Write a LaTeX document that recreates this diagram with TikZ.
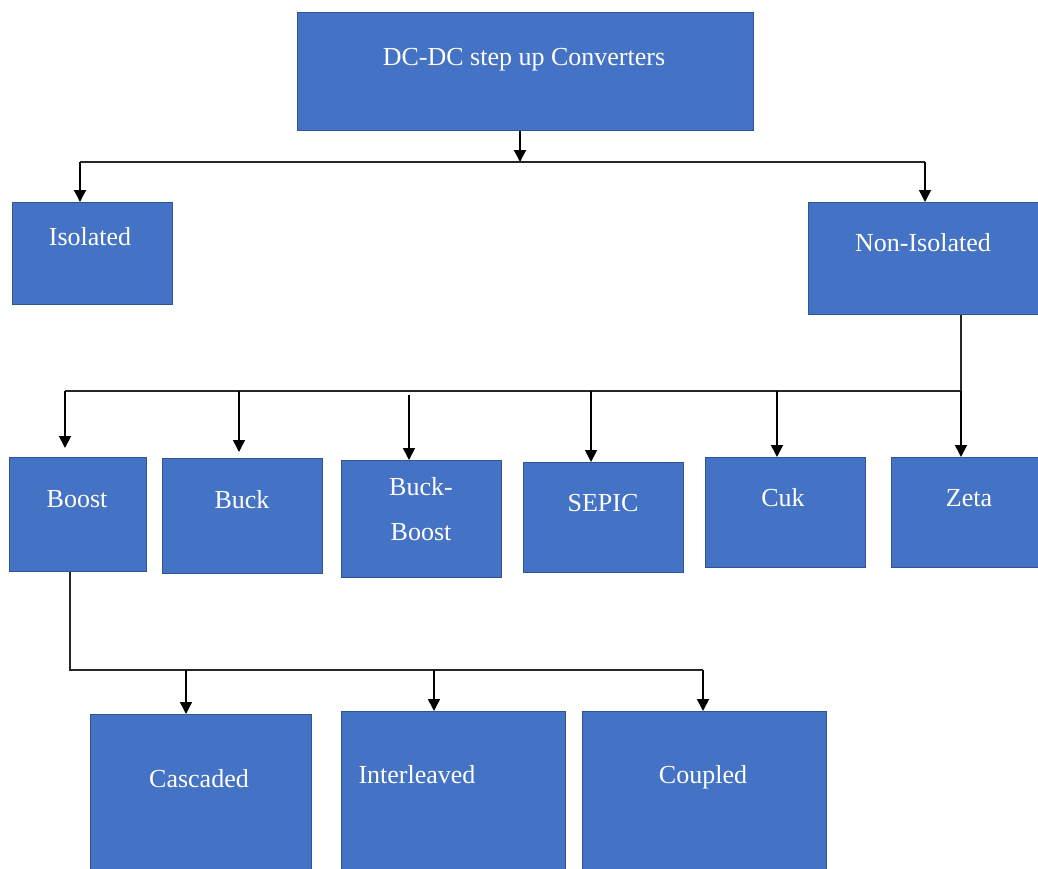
\documentclass[tikz,border=0pt]{standalone}
\usepackage{fontspec}
\setmainfont{Liberation Serif}
\usetikzlibrary{arrows.meta}
\definecolor{boxfill}{HTML}{4472C4}
\definecolor{boxline}{HTML}{2F5597}
\begin{document}
\begin{tikzpicture}[x=1pt,y=-1pt,
  box/.style={draw=boxline, line width=1pt, fill=boxfill, rectangle, anchor=north west, inner sep=0pt},
  lbl/.style={text=white, anchor=base, inner sep=0pt, font=\fontsize{26}{30}\selectfont},
  conn/.style={draw=black!85, line width=1.6pt},
  arr/.style={draw=black, line width=1.6pt, -{Triangle[length=12pt,width=12pt]}}]
\useasboundingbox (0,0) rectangle (1038,868);
\clip (0,0) rectangle (1038,868);
% boxes
\node[box, minimum width=456pt, minimum height=118pt] (top) at (297,12) {};
\node[box, minimum width=160pt, minimum height=102pt] (iso) at (12,202) {};
\node[box, minimum width=240pt, minimum height=112pt] (noniso) at (808,202) {};
\node[box, minimum width=137pt, minimum height=114pt] (boost) at (9,457) {};
\node[box, minimum width=160pt, minimum height=115pt] (buck) at (162,458) {};
\node[box, minimum width=160pt, minimum height=117pt] (bb) at (341,460) {};
\node[box, minimum width=160pt, minimum height=110pt] (sepic) at (523,462) {};
\node[box, minimum width=160pt, minimum height=110pt] (cuk) at (705,457) {};
\node[box, minimum width=160pt, minimum height=110pt] (zeta) at (891,457) {};
\node[box, minimum width=221pt, minimum height=170pt] (casc) at (90,714) {};
\node[box, minimum width=224pt, minimum height=170pt] (inter) at (341,711) {};
\node[box, minimum width=244pt, minimum height=170pt] (coup) at (582,711) {};
% labels
\node[lbl] (ttop) at (524,65) {DC-DC step up Converters};
\node[lbl] (tiso) at (90,245) {Isolated};
\node[lbl] (tnon) at (923,251) {Non-Isolated};
\node[lbl] (tboost) at (77,507) {Boost};
\node[lbl] (tbuck) at (242,508) {Buck};
\node[lbl] (tbb1) at (421,495) {Buck-};
\node[lbl] (tbb2) at (421,540) {Boost};
\node[lbl] (tsepic) at (603,511) {SEPIC};
\node[lbl] (tcuk) at (783,506) {Cuk};
\node[lbl] (tzeta) at (969,506) {Zeta};
\node[lbl] (tcasc) at (199,787) {Cascaded};
\node[lbl] (tinter) at (417,783) {Interleaved};
\node[lbl] (tcoup) at (703,783) {Coupled};
% level 1 connectors
\coordinate (j1) at (520,162);
\coordinate (hL) at (80,162);
\coordinate (hR) at (925,162);
\draw[arr] (j1 |- top.south) -- (j1);
\draw[conn] (hL) -- (hR);
\draw[arr] (hL) -- (hL |- iso.north);
\draw[arr] (hR) -- (hR |- noniso.north);
% level 2 connectors
\coordinate (n1) at (961,391);
\coordinate (n0) at (65,391);
\draw[conn] (n1 |- noniso.south) -- (n1) -- (n0);
\coordinate (a1) at (239,391);
\coordinate (a2) at (409,395);
\coordinate (a3) at (591,391);
\coordinate (a4) at (777,391);
\coordinate (e0) at (65,448);
\coordinate (e1) at (239,452);
\draw[arr] (n0) -- (e0);
\draw[arr] (a1) -- (e1);
\draw[arr] (a2) -- (a2 |- bb.north);
\draw[arr] (a3) -- (a3 |- sepic.north);
\draw[arr] (a4) -- (a4 |- cuk.north);
\draw[arr] (n1) -- (n1 |- zeta.north);
% level 3 connectors
\coordinate (b1) at (70,670);
\coordinate (b3) at (703,670);
\coordinate (b2) at (434,670);
\coordinate (b0) at (186,670);
\draw[conn] (b1 |- boost.south) -- (b1) -- (b3);
\draw[arr] (b0) -- (b0 |- casc.north);
\draw[arr] (b2) -- (b2 |- inter.north);
\draw[arr] (b3) -- (b3 |- coup.north);
\end{tikzpicture}
\end{document}
